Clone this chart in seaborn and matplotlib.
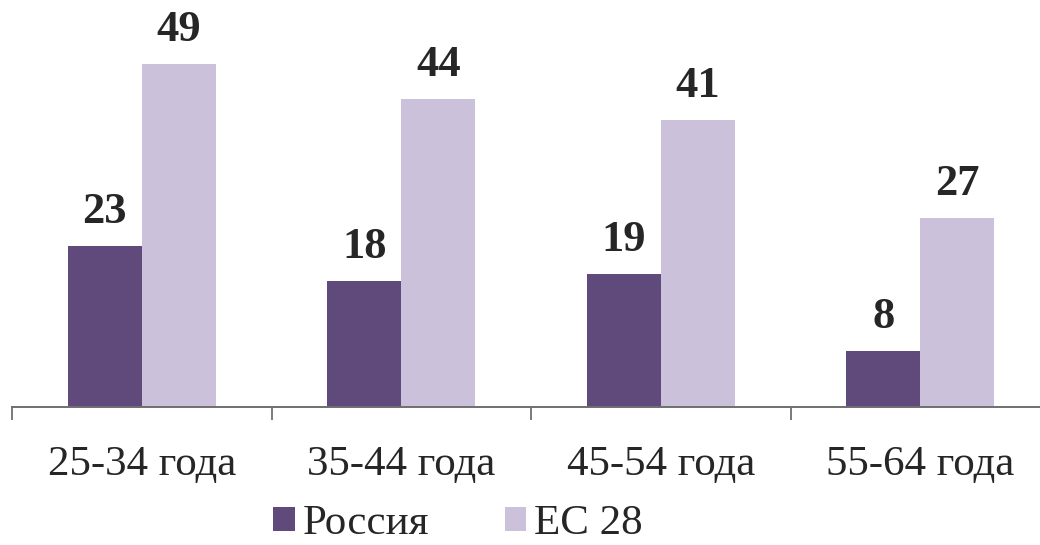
import matplotlib
matplotlib.use("Agg")
import matplotlib.pyplot as plt
import seaborn as sns
import pandas as pd
from matplotlib.ticker import FixedLocator
from matplotlib.patches import Patch

# Age groups and shares for each region
age_groups = ["25-34 года", "35-44 года", "45-54 года", "55-64 года"]
russia = [23, 18, 19, 8]
eu28 = [49, 44, 41, 27]
series_names = ["Россия", "ЕС 28"]
colors = ["#604A7B", "#CCC1DA"]

df = pd.DataFrame({
    "group": age_groups * 2,
    "value": russia + eu28,
    "series": [series_names[0]] * 4 + [series_names[1]] * 4,
})

sns.set_style("white")
plt.rcParams["font.family"] = ["Liberation Serif", "DejaVu Serif"]

W, H = 1040, 545
fig = plt.figure(figsize=(W / 100, H / 100), dpi=100)
ax = fig.add_axes([12 / W, (H - 407) / H, 1038 / W, 350 / H])

sns.barplot(data=df, x="group", y="value", hue="series", palette=colors,
            width=0.571, saturation=1, ax=ax, legend=False, edgecolor="none")

ax.set_ylim(0, 50)
ax.set_xlim(-0.5, 3.5)
ax.set_xlabel("")
ax.set_ylabel("")
ax.set_yticks([])
for s in ["left", "top", "right"]:
    ax.spines[s].set_visible(False)
ax.spines["bottom"].set_color("#6f6f6f")
ax.spines["bottom"].set_linewidth(1.4)

# Category labels without ticks; boundary ticks as minor ticks
ax.tick_params(axis="x", which="major", length=0, pad=28, labelsize=31)
ax.xaxis.set_minor_locator(FixedLocator([-0.5, 0.5, 1.5, 2.5, 3.5]))
ax.tick_params(axis="x", which="minor", length=9.5, width=1.3, color="#6f6f6f",
               direction="out", bottom=True)

for container in ax.containers:
    ax.bar_label(container, fmt="%g", padding=10, fontsize=32,
                 fontweight="bold", clip_on=False)

handles = [Patch(facecolor=c, edgecolor="none") for c in colors]
fig.legend(handles, series_names, loc="center", bbox_to_anchor=(458 / W, 1 - 524 / H),
           ncol=2, frameon=False, fontsize=31, handlelength=0.5, handleheight=0.5,
           handletextpad=0.18, columnspacing=1.75, borderpad=0)

fig.savefig("out.png", dpi=100)
